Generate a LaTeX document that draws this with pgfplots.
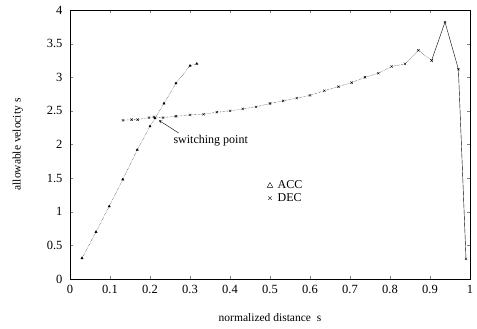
\documentclass[border=0pt]{standalone}
\usepackage{pgfplots}
\pgfplotsset{compat=1.18}
\usepackage{fontspec}
\setmainfont{Liberation Serif}
\begin{document}
\begin{tikzpicture}
\begin{axis}[
  scale only axis,
  width=400pt, height=269pt,
  xmin=0, xmax=1, ymin=0, ymax=4,
  xtick={0,0.1,...,1}, ytick={0,0.5,...,4},
  xticklabels={0,0.1,0.2,0.3,0.4,0.5,0.6,0.7,0.8,0.9,1},
  yticklabels={0,0.5,1,1.5,2,2.5,3,3.5,4},
  tick align=inside,
  major tick length=3pt,
  tick label style={font=\fontsize{12.5}{14}\selectfont},
  xticklabel style={yshift=-3pt},
  yticklabel style={xshift=-4pt},
  xlabel={normalized distance\ \ s},
  ylabel={allowable velocity\ s},
  label style={font=\fontsize{11.5}{13}\selectfont},
  xlabel style={at={(rel axis cs:0.5,-0.145)}, anchor=center},
  ylabel style={at={(rel axis cs:-0.13,0.5)}, anchor=center},
  axis line style={line width=0.8pt},
  legend style={draw=none, fill=none, at={(axis cs:0.485,1.52)}, anchor=north west, font=\fontsize{12}{14}\selectfont, row sep=-1pt},
  legend cell align=left,
]
\addlegendimage{only marks, mark=triangle, mark size=3.2pt, black}
\addlegendimage{only marks, mark=x, mark size=2.4pt, black}
% ACC
\addplot[black, densely dotted, thin, mark=triangle*, mark size=1.3pt, mark options={solid}, forget plot] coordinates {
(0.03,0.31) (0.065,0.70) (0.098,1.08) (0.132,1.48) (0.168,1.92) (0.20,2.27) (0.2125,2.39) (0.235,2.61) (0.265,2.91) (0.30,3.17) (0.317,3.20)
};
% DEC dotted part
\addplot[black, densely dotted, thin, mark=x, mark size=1.6pt, mark options={solid}, forget plot] coordinates {
(0.1325,2.36) (0.154,2.37) (0.169,2.37) (0.1975,2.40) (0.21,2.41) (0.2325,2.40) (0.265,2.42) (0.30,2.44) (0.334,2.45) (0.367,2.48) (0.40,2.50) (0.432,2.53) (0.465,2.56) (0.50,2.61) (0.533,2.65) (0.567,2.69) (0.60,2.73) (0.636,2.80) (0.671,2.86) (0.704,2.92) (0.7375,3.00) (0.771,3.06) (0.804,3.16) (0.8375,3.20) (0.871,3.40) (0.904,3.25)
};
% DEC solid end
\addplot[black, thin, mark=x, mark size=1.6pt, forget plot] coordinates {
(0.904,3.25) (0.9375,3.82) (0.971,3.12) (0.99,0.30)
};
\legend{\ ACC, \ DEC}
\node[anchor=west, font=\fontsize{12}{14}\selectfont] at (axis cs:0.25,2.06) {switching point};
\draw[->, >=stealth, thin] (axis cs:0.272,2.17) -- (axis cs:0.222,2.36);
\end{axis}
\path (current axis.south west) ++(-70pt,-50pt);
\path (current axis.north east) ++(7pt,10pt);
\end{tikzpicture}
\end{document}
